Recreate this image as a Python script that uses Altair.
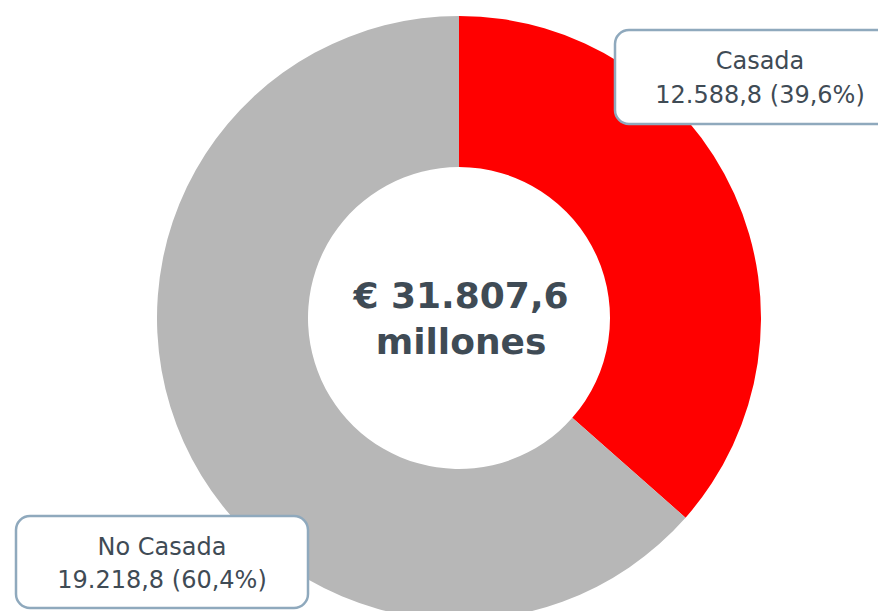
import altair as alt
import pandas as pd

categories = ["Casada", "No Casada"]
values = [12588.8, 19218.8]
percents = [39.6, 60.4]
# angular share of each slice as drawn in the picture (percent of the ring)
drawn_share = [36.5, 63.5]
colors = ["#ff0000", "#b7b7b7"]
total_label = "€ 31.807,6"
unit_label = "millones"


def es_num(v, dec=1):
    s = f"{v:,.{dec}f}"
    return s.replace(",", "X").replace(".", ",").replace("X", ".")


df = pd.DataFrame({
    "cat": categories,
    "share": drawn_share,
    "order": list(range(len(categories))),
    "line1": categories,
    "line2": [f"{es_num(v)} ({es_num(p)}%)" for v, p in zip(values, percents)],
})

W, H = 870, 603
CX, CY = 451, 310

base = alt.Chart(df)

donut = base.mark_arc(outerRadius=302, innerRadius=151).encode(
    theta=alt.Theta("share:Q", stack=True),
    order=alt.Order("order:Q"),
    color=alt.Color("cat:N", scale=alt.Scale(domain=categories, range=colors), legend=None),
    x=alt.value(CX),
    y=alt.value(CY),
)

box_style = dict(fill="white", stroke="#8fa9bd", strokeWidth=2.5, cornerRadius=14)
font = "DejaVu Sans"
txt_color = "#3f4b55"
fs = 24

layers = [donut]

# Casada callout
b1 = base.transform_filter(alt.datum.cat == categories[0])
layers.append(b1.mark_rect(**box_style).encode(
    x=alt.value(607), x2=alt.value(905), y=alt.value(22), y2=alt.value(116)))
layers.append(b1.mark_text(font=font, fontSize=fs, color=txt_color, align="center", baseline="middle").encode(
    text="line1:N", x=alt.value(752), y=alt.value(54)))
layers.append(b1.mark_text(font=font, fontSize=fs, color=txt_color, align="center", baseline="middle").encode(
    text="line2:N", x=alt.value(752), y=alt.value(88)))

# No Casada callout
b2 = base.transform_filter(alt.datum.cat == categories[1])
layers.append(b2.mark_rect(**box_style).encode(
    x=alt.value(8), x2=alt.value(300), y=alt.value(508), y2=alt.value(600)))
layers.append(b2.mark_text(font=font, fontSize=fs, color=txt_color, align="center", baseline="middle").encode(
    text="line1:N", x=alt.value(154), y=alt.value(540)))
layers.append(b2.mark_text(font=font, fontSize=fs, color=txt_color, align="center", baseline="middle").encode(
    text="line2:N", x=alt.value(154), y=alt.value(573)))

# Center total
center = alt.Chart(pd.DataFrame({"t": [total_label, unit_label], "i": [0, 1]}))
layers.append(center.transform_filter(alt.datum.i == 0).mark_text(
    font=font, fontSize=36, fontWeight="bold", color=txt_color, align="center", baseline="middle"
).encode(text="t:N", x=alt.value(CX + 2), y=alt.value(289)))
layers.append(center.transform_filter(alt.datum.i == 1).mark_text(
    font=font, fontSize=36, fontWeight="bold", color=txt_color, align="center", baseline="middle"
).encode(text="t:N", x=alt.value(CX + 2), y=alt.value(335)))

chart = alt.layer(*layers).properties(
    width=W, height=H, padding=0, autosize=alt.AutoSizeParams(type="none")
).configure(background="white").configure_view(stroke=None, strokeWidth=0)

chart.save("out.html", embed_options={"renderer": "svg", "actions": False})
